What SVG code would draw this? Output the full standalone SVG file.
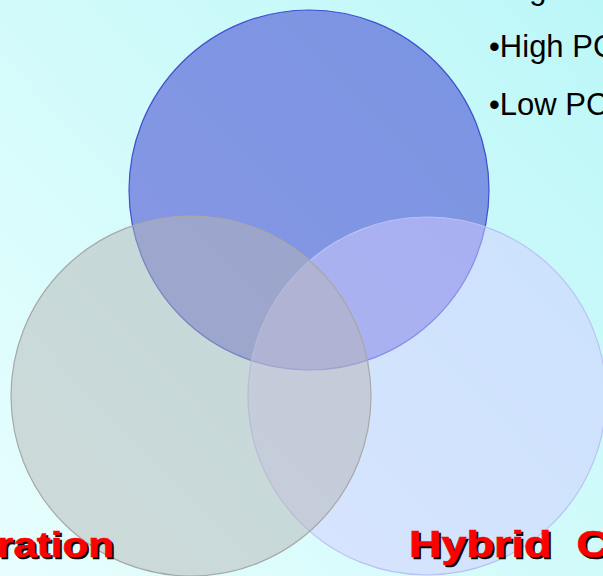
<svg xmlns="http://www.w3.org/2000/svg" width="603" height="576" viewBox="0 0 603 576">
  <defs>
    <linearGradient id="bg" x1="603" y1="0" x2="0" y2="576" gradientUnits="userSpaceOnUse">
      <stop offset="0" stop-color="#bcf7f8"/>
      <stop offset="1" stop-color="#e8fefe"/>
    </linearGradient>
    <style>
      .set { fill-opacity: 0.5; stroke-width: 1.2; }
      .bullet { font-family: "Liberation Sans", Arial, sans-serif; font-size: 31px; fill: #000000; }
      .title { font-family: "Liberation Sans", Arial, sans-serif; font-size: 36px; font-weight: bold; }
      .title .shadow { fill: #000000; stroke: #000000; stroke-width: 0.6; }
      .title .face { fill: #ff0000; stroke: #ff0000; stroke-width: 0.6; }
    </style>
  </defs>

  <!-- backdrop -->
  <rect x="0" y="0" width="603" height="576" fill="url(#bg)"/>

  <!-- Venn sets -->
  <g id="set-top">
    <circle class="set" cx="309" cy="190" r="180" fill="#3432cc" stroke="#3344cc" stroke-opacity="0.9"/>
  </g>
  <g id="set-right">
    <circle class="set" cx="427" cy="396" r="179" fill="#d2ccff" stroke="#b8c2f2"/>
  </g>
  <g id="set-left">
    <circle class="set" cx="191" cy="396" r="180" fill="#b6b6b6" stroke="#a8a8a8"/>
  </g>

  <!-- bullet list, upper right -->
  <g id="bullets" class="bullet">
    <text x="489" y="-1">•High</text>
    <text x="489" y="57">•High PC</text>
    <text x="489" y="115">•Low PC</text>
  </g>

  <!-- set titles with drop shadow -->
  <g id="label-left" class="title" text-anchor="end">
    <text class="shadow" transform="translate(116,559) scale(1.17,1)">ration</text>
    <text class="face" transform="translate(114,557) scale(1.17,1)">ration</text>
  </g>
  <g id="label-right" class="title">
    <text class="shadow" transform="translate(411,559) scale(1.25,1)">Hybrid<tspan dx="20">C</tspan></text>
    <text class="face" transform="translate(409,557) scale(1.25,1)">Hybrid<tspan dx="20">C</tspan></text>
  </g>
</svg>
